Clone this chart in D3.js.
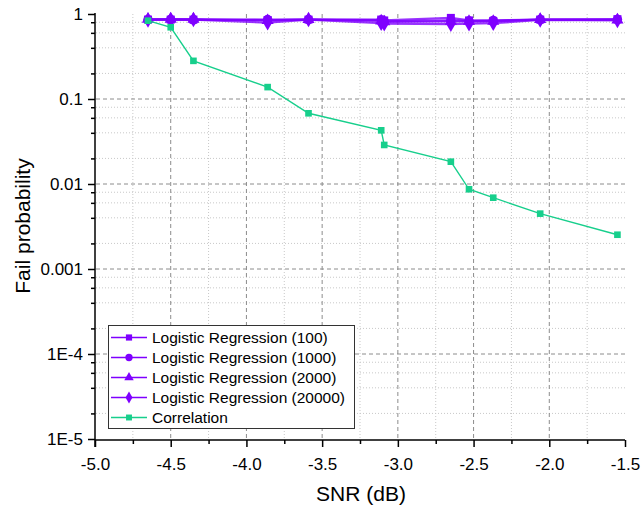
<!DOCTYPE html>
<html>
<head>
<meta charset="utf-8">
<script src="https://cdn.jsdelivr.net/npm/d3@7"></script>
<style>
  html, body { margin: 0; padding: 0; background: #fff; }
  svg { display: block; font-family: "Liberation Sans", Arial, sans-serif; }
</style>
</head>
<body>
<svg id="chart" width="641" height="509"></svg>
<script>
// ---- data ----
const snr = [-4.65, -4.5, -4.35, -3.86, -3.59, -3.11, -3.09, -2.65, -2.53, -2.37, -2.06, -1.55];
const lr100   = [0.86, 0.86, 0.86, 0.85, 0.86, 0.86, 0.84, 0.90, 0.84, 0.83, 0.86, 0.87];
const lr1000  = [0.86, 0.86, 0.85, 0.86, 0.86, 0.85, 0.82, 0.84, 0.83, 0.84, 0.86, 0.86];
const lr2000  = [0.87, 0.87, 0.87, 0.84, 0.86, 0.83, 0.81, 0.82, 0.82, 0.82, 0.86, 0.85];
const lr20000 = [0.85, 0.86, 0.86, 0.79, 0.86, 0.78, 0.77, 0.76, 0.77, 0.78, 0.85, 0.84];
const correlation = [0.834, 0.698, 0.281, 0.138, 0.0679, 0.0428, 0.0288, 0.0183, 0.00867, 0.0069, 0.00448, 0.00253];
const seriesNames = ["Logistic Regression (100)", "Logistic Regression (1000)", "Logistic Regression (2000)", "Logistic Regression (20000)", "Correlation"];
const xTicks = [-5.0, -4.5, -4.0, -3.5, -3.0, -2.5, -2.0, -1.5];
const yTicks = [1, 0.1, 0.01, 0.001, 1e-4, 1e-5];
const yTickLabels = ["1", "0.1", "0.01", "0.001", "1E-4", "1E-5"];
const xTitle = "SNR (dB)";
const yTitle = "Fail probability";

// ---- layout ----
const svg = d3.select("#chart");
const purple = "#7f00ff";
const green = "#17cf8c";
const x = d3.scaleLinear().domain([-5, -1.5]).range([95, 625]);
const y = d3.scaleLog().domain([1e-5, 1]).range([439, 14]);

// grid
const grid = svg.append("g");
const yMinor = [];
for (let e = -5; e < 0; e++) for (const m of [2, 4, 6, 8]) yMinor.push(m * Math.pow(10, e));
grid.selectAll(".ymin").data(yMinor).enter().append("line")
  .attr("x1", 96).attr("x2", 625).attr("y1", d => y(d)).attr("y2", d => y(d))
  .attr("stroke", "#c8c8c8").attr("stroke-width", 1).attr("stroke-dasharray", "1,2");
const xMinor = d3.range(-4.75, -1.5, 0.5);
grid.selectAll(".xmin").data(xMinor).enter().append("line")
  .attr("x1", d => x(d)).attr("x2", d => x(d)).attr("y1", 14).attr("y2", 439)
  .attr("stroke", "#c8c8c8").attr("stroke-width", 1).attr("stroke-dasharray", "1,2");
grid.selectAll(".ymaj").data(yTicks.slice(1, 5)).enter().append("line")
  .attr("x1", 96).attr("x2", 625).attr("y1", d => y(d)).attr("y2", d => y(d))
  .attr("stroke", "#8c8c8c").attr("stroke-width", 1).attr("stroke-dasharray", "4,3");
grid.selectAll(".xmaj").data(xTicks.slice(1, 7)).enter().append("line")
  .attr("x1", d => x(d)).attr("x2", d => x(d)).attr("y1", 14).attr("y2", 439)
  .attr("stroke", "#8c8c8c").attr("stroke-width", 1).attr("stroke-dasharray", "4,3");

// axes
const fmt = d => yTickLabels[yTicks.indexOf(d)];
const yAxis = svg.append("g").attr("transform", "translate(95,0)")
  .call(d3.axisLeft(y).tickValues(yTicks).tickFormat(fmt).tickSize(7).tickPadding(5));
const yAxisMinor = svg.append("g").attr("transform", "translate(95,0)")
  .call(d3.axisLeft(y).tickValues(yMinor).tickFormat("").tickSize(4));
const xAxis = svg.append("g").attr("transform", "translate(0,440)")
  .call(d3.axisBottom(x).tickValues(xTicks).tickFormat(d => d.toFixed(1)).tickSize(7).tickPadding(11));
const xAxisMinor = svg.append("g").attr("transform", "translate(0,440)")
  .call(d3.axisBottom(x).tickValues(xMinor).tickFormat("").tickSize(4));
[yAxis, yAxisMinor, xAxis, xAxisMinor].forEach(g => {
  g.selectAll(".domain").attr("stroke", "#000").attr("stroke-width", 1.5);
  g.selectAll(".tick line").attr("stroke", "#000").attr("stroke-width", 1.5);
  g.selectAll("text").attr("font-size", 17).attr("fill", "#000")
    .attr("font-family", "'Liberation Sans', Arial, sans-serif");
});
xAxis.selectAll(".domain").attr("d", "M95,0H625");
xAxisMinor.selectAll(".domain").remove();
yAxisMinor.selectAll(".domain").remove();
yAxis.selectAll(".domain").attr("d", "M0,13V447");

// titles
svg.append("text").attr("x", 361).attr("y", 501).attr("text-anchor", "middle")
  .attr("font-size", 21).text(xTitle);
svg.append("text").attr("transform", "translate(30,226) rotate(-90)").attr("text-anchor", "middle")
  .attr("font-size", 21).text(yTitle);

// series
const series = [
  { name: seriesNames[0], vals: lr100, color: purple, sym: d3.symbolSquare, size: 64 },
  { name: seriesNames[1], vals: lr1000, color: purple, sym: d3.symbolCircle, size: 70 },
  { name: seriesNames[2], vals: lr2000, color: purple, sym: d3.symbolTriangle, size: 64 },
  { name: seriesNames[3], vals: lr20000, color: purple, sym: d3.symbolDiamond, size: 70 },
  { name: seriesNames[4], vals: correlation, color: green, sym: d3.symbolSquare, size: 44 }
];
const line = d3.line().x(d => x(d[0])).y(d => y(d[1]));
series.forEach(s => {
  const pts = snr.map((v, i) => [v, s.vals[i]]);
  const g = svg.append("g");
  g.append("path").attr("d", line(pts)).attr("fill", "none").attr("stroke", s.color)
    .attr("stroke-width", s.color === purple ? 2.2 : 1.4).attr("stroke-opacity", s.color === purple ? 0.8 : 1);
  g.selectAll("path.m").data(pts).enter().append("path").attr("class", "m")
    .attr("transform", d => `translate(${x(d[0])},${y(d[1])})`)
    .attr("d", d3.symbol().type(s.sym).size(s.size)).attr("fill", s.color);
});

// legend
const lg = svg.append("g");
lg.append("rect").attr("x", 108.5).attr("y", 325.5).attr("width", 246).attr("height", 103)
  .attr("fill", "#fff").attr("stroke", "#333").attr("stroke-width", 1);
series.forEach((s, i) => {
  const yy = 337.5 + i * 20;
  lg.append("line").attr("x1", 111).attr("x2", 147).attr("y1", yy).attr("y2", yy)
    .attr("stroke", s.color).attr("stroke-width", 1.4);
  lg.append("path").attr("transform", `translate(129,${yy})`)
    .attr("d", d3.symbol().type(s.sym).size(s.color === purple ? s.size * 0.6 : s.size * 0.8)).attr("fill", s.color);
  lg.append("text").attr("x", 152).attr("y", yy + 5.5).attr("font-size", 15.5).attr("fill", "#000").text(s.name);
});
</script>
</body>
</html>
